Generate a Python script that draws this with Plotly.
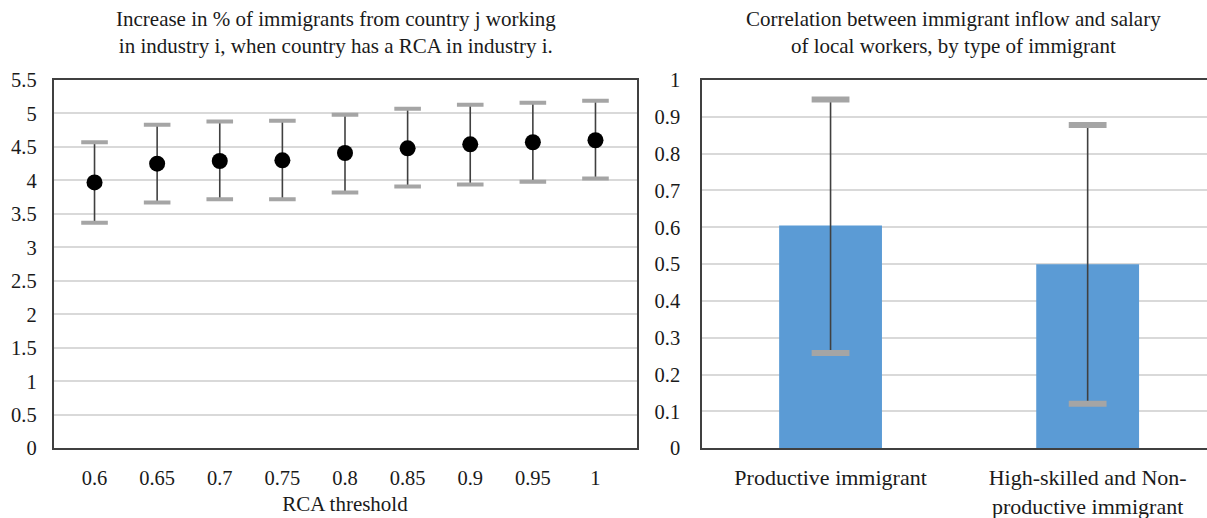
import plotly.graph_objects as go

# Left panel: RCA thresholds with point estimates and confidence bounds
rca_thresholds = ["0.6", "0.65", "0.7", "0.75", "0.8", "0.85", "0.9", "0.95", "1"]
rca_estimate = [3.97, 4.25, 4.29, 4.30, 4.41, 4.48, 4.54, 4.57, 4.60]
rca_upper = [4.57, 4.83, 4.88, 4.89, 4.98, 5.07, 5.13, 5.16, 5.19]
rca_lower = [3.37, 3.67, 3.72, 3.72, 3.82, 3.91, 3.94, 3.98, 4.03]

# Right panel: correlation by immigrant type
immigrant_types = ["Productive immigrant", "High-skilled and Non-<br>productive immigrant"]
corr_value = [0.605, 0.50]
corr_upper = [0.947, 0.878]
corr_lower = [0.259, 0.121]

left_title = "Increase in % of immigrants from country j working<br>in industry i, when country has a RCA in industry i."
right_title = "Correlation between immigrant inflow and salary<br>of local workers, by type of immigrant"
left_xlabel = "RCA threshold"

FONT = "Liberation Serif"
TEXT = "#1a1a1a"
GRID = "#d9d9d9"
FRAME = "#404040"
CAP = "#a5a5a5"
BAR = "#5b9bd5"

W, H = 1207, 518

fig = go.Figure()

fig.add_trace(go.Scatter(
    x=rca_thresholds, y=rca_estimate, mode="markers",
    marker=dict(color="black", size=16),
    error_y=dict(type="data", symmetric=False,
                 array=[u - v for u, v in zip(rca_upper, rca_estimate)],
                 arrayminus=[v - l for v, l in zip(rca_estimate, rca_lower)],
                 width=0, thickness=1.6, color=FRAME),
    xaxis="x", yaxis="y", showlegend=False, hoverinfo="skip",
))
fig.add_trace(go.Scatter(
    x=rca_thresholds + rca_thresholds, y=rca_upper + rca_lower, mode="markers",
    marker=dict(symbol="line-ew", size=19, line=dict(color=CAP, width=4)),
    xaxis="x", yaxis="y", showlegend=False, hoverinfo="skip",
))

fig.add_trace(go.Bar(
    x=immigrant_types, y=corr_value, width=0.4, marker=dict(color=BAR, line=dict(width=0)),
    error_y=dict(type="data", symmetric=False,
                 array=[u - v for u, v in zip(corr_upper, corr_value)],
                 arrayminus=[v - l for v, l in zip(corr_value, corr_lower)],
                 width=0, thickness=1.6, color=FRAME),
    xaxis="x2", yaxis="y2", showlegend=False, hoverinfo="skip",
))
fig.add_trace(go.Scatter(
    x=immigrant_types + immigrant_types, y=corr_upper + corr_lower, mode="markers",
    marker=dict(symbol="line-ew", size=27, line=dict(color=CAP, width=6)),
    xaxis="x2", yaxis="y2", showlegend=False, hoverinfo="skip",
))

# Plot-area geometry in pixels
left_x0, left_x1 = 53.5, 636.5
right_x0 = 702.0
y_top, y_bot = 80.0, 448.3
ydom = [1 - y_bot / H, 1 - y_top / H]
n_right_span = (W - right_x0) / ((1088.3 - 831.2))

numfont = dict(family=FONT, size=20.5, color=TEXT)
catfont = dict(family=FONT, size=22, color=TEXT)
titlefont = dict(family=FONT, size=21, color=TEXT)

fig.update_layout(
    width=W, height=H,
    margin=dict(l=0, r=0, t=0, b=0, pad=0),
    paper_bgcolor="white", plot_bgcolor="white",
    font=dict(family=FONT, color=TEXT),
    bargap=0.6,
    xaxis=dict(domain=[left_x0 / W, left_x1 / W], type="category", automargin=False,
               showline=True, linecolor=FRAME, linewidth=1.5, mirror=True,
               showgrid=False, ticks="", tickfont=numfont, ticklabelstandoff=10,
               title=dict(text=left_xlabel, font=titlefont, standoff=9)),
    yaxis=dict(domain=ydom, range=[0, 5.5], dtick=0.5, tick0=0, automargin=False,
               showline=True, linecolor=FRAME, linewidth=1.5, mirror=True,
               showgrid=True, gridcolor=GRID, gridwidth=1.5, zeroline=False,
               ticks="", tickfont=numfont, ticklabelstandoff=11),
    xaxis2=dict(domain=[right_x0 / W, 1], type="category", anchor="y2", automargin=False,
                range=[-0.5, -0.5 + n_right_span],
                showline=True, linecolor=FRAME, linewidth=1.5, mirror=True,
                showgrid=False, ticks="", tickfont=catfont, ticklabelstandoff=9),
    yaxis2=dict(domain=ydom, range=[0, 1], dtick=0.1, tick0=0, anchor="x2", automargin=False,
                showline=True, linecolor=FRAME, linewidth=1.5, mirror=False,
                showgrid=True, gridcolor=GRID, gridwidth=1.5, zeroline=False,
                ticks="", tickfont=numfont, ticklabelstandoff=16),
    annotations=[
        dict(text=left_title, x=336 / W, y=1 - 33 / H, xref="paper", yref="paper",
             xanchor="center", yanchor="middle", showarrow=False, font=titlefont),
        dict(text=right_title, x=953 / W, y=1 - 33 / H, xref="paper", yref="paper",
             xanchor="center", yanchor="middle", showarrow=False, font=titlefont),
    ],
)

fig.write_html("out.html")
